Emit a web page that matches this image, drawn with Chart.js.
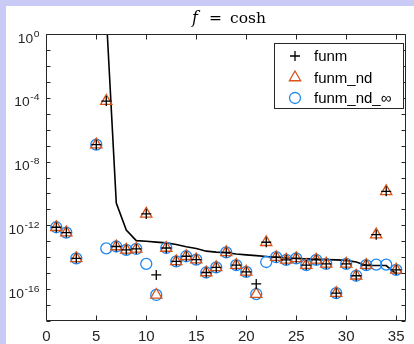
<!DOCTYPE html>
<html>
<head>
<meta charset="utf-8">
<script src="https://cdn.jsdelivr.net/npm/chart.js@4/dist/chart.umd.min.js"></script>
<style>
  html, body { margin: 0; padding: 0; background: #cacaf7; overflow: hidden; }
  #wrap { position: absolute; left: 6px; top: 6px; width: 408px; height: 338px; background: #fff; }
</style>
</head>
<body>
<div id="wrap"><canvas id="myChart" width="408" height="338"></canvas></div>
<script>
// matrix index 1..35
const xValues = [1, 2, 3, 4, 5, 6, 7, 8, 9, 10, 11, 12, 13, 14, 15, 16, 17, 18, 19, 20,
  21, 22, 23, 24, 25, 26, 27, 28, 29, 30, 31, 32, 33, 34, 35];

const funm = [7.6e-13, 3.5e-13, 8.5e-15, null, 1.15e-7, 6.2e-5, 4.7e-14, 2.9e-14, 3.3e-14, 5.2e-12,
  7.8e-16, 3.8e-14, 5.5e-15, 1.15e-14, 7.1e-15, 1.1e-15, 2.3e-15, 2.0e-14, 3.2e-15, 1.2e-15,
  2.1e-16, 8.7e-14, 1.0e-14, 6.8e-15, 8.5e-15, 3.2e-15, 6.8e-15, 3.8e-15, 5.6e-17, 3.8e-15,
  6.9e-16, 3.2e-15, 2.6e-13, 1.35e-10, 1.6e-15];

const funmNd = [7.6e-13, 3.5e-13, 8.5e-15, null, 1.15e-7, 6.2e-5, 4.7e-14, 2.9e-14, 3.3e-14, 5.2e-12,
  4.3e-17, 3.8e-14, 5.5e-15, 1.15e-14, 7.1e-15, 1.1e-15, 2.3e-15, 2.0e-14, 3.2e-15, 1.2e-15,
  4.9e-17, 8.7e-14, 1.0e-14, 6.8e-15, 8.5e-15, 3.2e-15, 6.8e-15, 3.8e-15, 5.6e-17, 3.8e-15,
  6.9e-16, 3.2e-15, 2.6e-13, 1.35e-10, 1.6e-15];

const funmNdInf = [7.6e-13, 3.5e-13, 8.5e-15, null, 1.15e-7, 3.6e-14, 4.7e-14, 2.9e-14, 3.3e-14, 3.8e-15,
  4.3e-17, 3.8e-14, 5.5e-15, 1.15e-14, 7.1e-15, 1.1e-15, 2.3e-15, 2.0e-14, 3.2e-15, 1.2e-15,
  4.9e-17, 5.0e-15, 1.0e-14, 6.8e-15, 8.5e-15, 3.2e-15, 6.8e-15, 3.8e-15, 5.6e-17, 3.8e-15,
  6.9e-16, 3.2e-15, 3.4e-15, 3.4e-15, 1.6e-15];

// solid black curve (goes off the top before index 6)
const bound = [null, null, null, null, null, 1.6e1, 2.5e-11, 5.0e-13, 1.1e-13, 1.0e-13,
  8.9e-14, 7.9e-14, 6.3e-14, 4.5e-14, 3.5e-14, 2.4e-14, 2.1e-14, 1.9e-14, 1.6e-14, 1.4e-14,
  1.26e-14, 1.12e-14, 1.0e-14, 8.9e-15, 8.3e-15, 7.9e-15, 7.6e-15, 7.1e-15, 6.8e-15, 6.3e-15,
  5.0e-15, 3.0e-15, 3.0e-15, 3.0e-15, 8.9e-16];

const xTicks = [0, 5, 10, 15, 20, 25, 30, 35];
const yTickExps = [0, -1, -2, -3, -4, -5, -6, -7, -8, -9, -10, -11, -12, -13, -14, -15, -16, -17, -18];
const yLabelExps = [0, -4, -8, -12, -16];

function toPoints(ys) {
  let pts = [];
  ys.forEach((v, i) => {
    if (v !== null) pts.push({ x: xValues[i], y: v });
  });
  return pts;
}

const axisColor = "#262626";

const framePlugin = {
  id: "frame",
  afterDatasetsDraw(chart) {
    const ctx = chart.ctx;
    const a = chart.chartArea;
    const l = Math.round(a.left) + 0.5, r = Math.round(a.right) - 0.5;
    const t = Math.round(a.top) + 0.5, b = Math.round(a.bottom) - 0.5;
    ctx.save();
    ctx.strokeStyle = axisColor;
    ctx.lineWidth = 1;
    ctx.beginPath();
    ctx.rect(l, t, r - l, b - t);
    xTicks.forEach((v) => {
      const px = Math.round(chart.scales.x.getPixelForValue(v)) + 0.5;
      ctx.moveTo(px, b); ctx.lineTo(px, b - 5);
      ctx.moveTo(px, t); ctx.lineTo(px, t + 5);
    });
    yTickExps.forEach((e) => {
      const py = Math.round(chart.scales.y.getPixelForValue(Math.pow(10, e))) + 0.5;
      ctx.moveTo(l, py); ctx.lineTo(l + 4, py);
      ctx.moveTo(r, py); ctx.lineTo(r - 4, py);
    });
    ctx.stroke();

    // y tick labels 10^n (base + raised exponent)
    const sx = 1.15;
    ctx.fillStyle = axisColor;
    ctx.textBaseline = "alphabetic";
    ctx.textAlign = "left";
    yLabelExps.forEach((e) => {
      const py = chart.scales.y.getPixelForValue(Math.pow(10, e));
      const expTxt = String(e);
      ctx.font = "12px 'Liberation Sans'";
      const wBase = ctx.measureText("10").width;
      ctx.font = "9px 'Liberation Sans'";
      const wExp = ctx.measureText(expTxt).width;
      const total = (wBase + 0.5 + wExp) * sx;
      ctx.save();
      ctx.translate(33.5 - total, py);
      ctx.scale(sx, 1);
      ctx.font = "12px 'Liberation Sans'";
      ctx.fillText("10", 0, 8.6);
      ctx.font = "9px 'Liberation Sans'";
      ctx.fillText(expTxt, wBase + 0.5, 2.6);
      ctx.restore();
    });
    ctx.restore();
  },
  afterDraw(chart) {
    const ctx = chart.ctx;
    ctx.save();
    ctx.fillStyle = "#000";
    ctx.textBaseline = "alphabetic";
    ctx.font = "italic 16px 'DejaVu Serif'";
    ctx.fillText("f", 186, 16.5);
    ctx.font = "15.5px 'DejaVu Serif'";
    ctx.textAlign = "center";
    ctx.fillText("=", 209.5, 16.5);
    ctx.textAlign = "left";
    ctx.fillText("cosh", 224, 16.5);

    // legend box
    const bx = 268.5, by = 37.5, bw = 129, bh = 65;
    ctx.fillStyle = "#fff";
    ctx.fillRect(bx, by, bw, bh);
    ctx.strokeStyle = axisColor;
    ctx.lineWidth = 1;
    ctx.strokeRect(bx, by, bw, bh);
    const rowsY = [50, 71.5, 92];
    ctx.font = "15px 'Liberation Sans'";
    ctx.textBaseline = "middle";
    chart.data.datasets.slice(0, 3).forEach((ds, i) => {
      ctx.strokeStyle = ds.borderColor;
      ctx.fillStyle = "rgba(0,0,0,0)";
      ctx.lineWidth = ds.pointBorderWidth;
      Chart.helpers.drawPoint(ctx, { pointStyle: ds.pointStyle, radius: ds.pointRadius, borderWidth: ds.pointBorderWidth, rotation: 0 }, 289, rowsY[i]);
      ctx.fillStyle = "#000";
      ctx.fillText(ds.label, 308, rowsY[i] + 1);
    });
    ctx.restore();
  }
};

new Chart(document.getElementById("myChart"), {
  type: "scatter",
  data: {
    datasets: [
      {
        label: "funm",
        data: toPoints(funm),
        pointStyle: "cross",
        pointRadius: 5,
        pointBorderWidth: 1.3,
        borderColor: "#000000",
        backgroundColor: "rgba(0,0,0,0)",
        showLine: false
      },
      {
        label: "funm_nd",
        data: toPoints(funmNd),
        pointStyle: "triangle",
        pointRadius: 6.5,
        pointBorderWidth: 1.3,
        borderColor: "#D95319",
        backgroundColor: "rgba(0,0,0,0)",
        showLine: false
      },
      {
        label: "funm_nd_\u221E",
        data: toPoints(funmNdInf),
        pointStyle: "circle",
        pointRadius: 5.5,
        pointBorderWidth: 1.3,
        borderColor: "#1E88F0",
        backgroundColor: "rgba(0,0,0,0)",
        showLine: false
      },
      {
        label: "bound",
        data: toPoints(bound),
        showLine: true,
        pointRadius: 0,
        borderColor: "#000000",
        borderWidth: 1.6,
        fill: false
      }
    ]
  },
  options: {
    responsive: false,
    animation: false,
    devicePixelRatio: 1,
    layout: { padding: { top: 28, right: 2, left: 0, bottom: 0 } },
    plugins: {
      legend: { display: false },
      tooltip: { enabled: false },
      title: { display: false }
    },
    scales: {
      x: {
        type: "linear",
        min: 0,
        max: 36,
        grid: { display: false, drawTicks: false },
        border: { display: false },
        ticks: {
          autoSkip: false,
          maxRotation: 0,
          padding: 7,
          color: "#262626",
          font: { family: "'Liberation Sans'", size: 15 }
        },
        afterBuildTicks: (scale) => {
          scale.ticks = xTicks.map((v) => ({ value: v }));
        },
        afterFit: (scale) => {
          scale.height = 23;
        }
      },
      y: {
        type: "logarithmic",
        min: 1e-18,
        max: 1,
        grid: { display: false, drawTicks: false },
        border: { display: false },
        ticks: { display: false },
        afterBuildTicks: (scale) => {
          scale.ticks = yTickExps.map((e) => ({ value: Math.pow(10, e) }));
        },
        afterFit: (scale) => {
          scale.width = 40.3;
        }
      }
    }
  },
  plugins: [framePlugin]
});
</script>
</body>
</html>
